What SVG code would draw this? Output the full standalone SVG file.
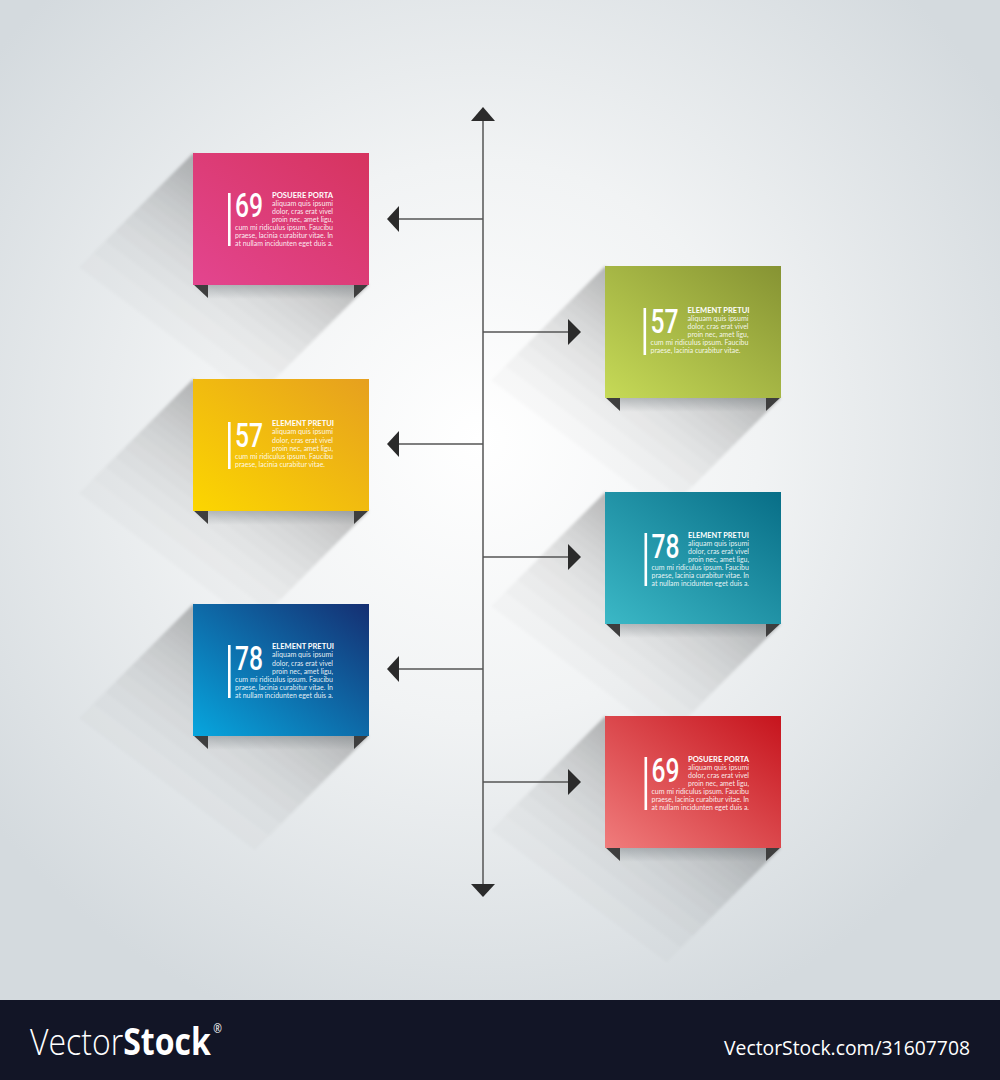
<svg xmlns="http://www.w3.org/2000/svg" xmlns:xlink="http://www.w3.org/1999/xlink" width="1000" height="1080" viewBox="0 0 1000 1080">
<defs>
<style>
.num{font-family:Roboto,"Liberation Sans",sans-serif;font-weight:500;font-size:34px;fill:#fff}
.ttl{font-family:Lato,"Open Sans","Liberation Sans",sans-serif;font-weight:700;font-size:7.6px;fill:#fff}
.txt{font-family:Lato,"Open Sans","Liberation Sans",sans-serif;font-size:6.8px;fill:#fff;fill-opacity:0.9}
.bar{fill:#fff}
.tab{fill:#3e3e3e}
.line{stroke:#555;stroke-width:1.5;fill:none}
.head{fill:#2b2b2b}
.wm{font-family:"Open Sans","Liberation Sans",sans-serif;fill:#fff}
</style>
<radialGradient id="bg" cx="0.48" cy="0.44" r="0.62">
<stop offset="0" stop-color="#ffffff"/>
<stop offset="0.45" stop-color="#f1f3f4"/>
<stop offset="1" stop-color="#d4dade"/>
</radialGradient>
<linearGradient id="gPink" x1="0" y1="1" x2="1" y2="0"><stop offset="0" stop-color="#e3458f"/><stop offset="1" stop-color="#d6345f"/></linearGradient>
<linearGradient id="gYellow" x1="0" y1="1" x2="1" y2="0"><stop offset="0" stop-color="#fcd600"/><stop offset="1" stop-color="#e6a01f"/></linearGradient>
<linearGradient id="gBlue" x1="0" y1="1" x2="1" y2="0"><stop offset="0" stop-color="#07a6de"/><stop offset="1" stop-color="#152f72"/></linearGradient>
<linearGradient id="gGreen" x1="0" y1="1" x2="1" y2="0"><stop offset="0" stop-color="#c6da57"/><stop offset="1" stop-color="#869333"/></linearGradient>
<linearGradient id="gTeal" x1="0" y1="1" x2="1" y2="0"><stop offset="0" stop-color="#3bb8c6"/><stop offset="1" stop-color="#086e87"/></linearGradient>
<linearGradient id="gRed" x1="0" y1="1" x2="1" y2="0"><stop offset="0" stop-color="#f07c7c"/><stop offset="1" stop-color="#c6141d"/></linearGradient>
<linearGradient id="under" x1="0" y1="0" x2="0" y2="1"><stop offset="0" stop-color="#6f777c" stop-opacity="0.4"/><stop offset="1" stop-color="#6f777c" stop-opacity="0"/></linearGradient>
<filter id="soft" x="-30%" y="-30%" width="160%" height="160%"><feGaussianBlur stdDeviation="1.6"/></filter>
<g id="shadow" fill="#1f2a31" fill-opacity="0.02" filter="url(#soft)">
<polygon points="0,0 -4,4 172,136 176,132"/>
<polygon points="0,0 -8,8 168,140 176,132"/>
<polygon points="0,0 -12,12 164,144 176,132"/>
<polygon points="0,0 -16,16 160,148 176,132"/>
<polygon points="0,0 -20,20 156,152 176,132"/>
<polygon points="0,0 -25,25 151,157 176,132"/>
<polygon points="0,0 -30,30 146,162 176,132"/>
<polygon points="0,0 -35,35 141,167 176,132"/>
<polygon points="0,0 -41,41 135,173 176,132"/>
<polygon points="0,0 -47,47 129,179 176,132"/>
<polygon points="0,0 -54,54 122,186 176,132"/>
<polygon points="0,0 -61,61 115,193 176,132"/>
<polygon points="0,0 -69,69 107,201 176,132"/>
<polygon points="0,0 -78,78 98,210 176,132"/>
<polygon points="0,0 -88,88 88,220 176,132"/>
<polygon points="0,0 -100,100 76,232 176,132"/>
<polygon points="0,0 -114,114 62,246 176,132"/>
</g>
</defs>

<rect x="0" y="0" width="1000" height="1000" fill="url(#bg)"/>

<g id="node-pink" transform="translate(193,153)">
<use href="#shadow"/>
<rect x="15" y="132" width="146" height="14" fill="url(#under)"/>
<polygon class="tab" points="0,131 15,131 15,145"/>
<polygon class="tab" points="161,131 176,131 161,145"/>
<rect width="176" height="132" fill="url(#gPink)"/>
<rect class="bar" x="35" y="40" width="2.6" height="53"/>
<text class="num" x="42" y="64" textLength="28" lengthAdjust="spacingAndGlyphs">69</text>
<text class="ttl" x="79" y="44.5" textLength="61" lengthAdjust="spacingAndGlyphs">POSUERE PORTA</text>
<text class="txt" x="79" y="52.6" textLength="61" lengthAdjust="spacingAndGlyphs">aliquam quis ipsumi</text>
<text class="txt" x="79" y="60.7" textLength="61" lengthAdjust="spacingAndGlyphs">dolor, cras erat vivel</text>
<text class="txt" x="79" y="68.8" textLength="61" lengthAdjust="spacingAndGlyphs">proin nec, amet ligu,</text>
<text class="txt" x="42" y="76.9" textLength="98" lengthAdjust="spacingAndGlyphs">cum mi ridiculus ipsum. Faucibu</text>
<text class="txt" x="42" y="85" textLength="98" lengthAdjust="spacingAndGlyphs">praese, lacinia curabitur vitae. In</text>
<text class="txt" x="42" y="93.1" textLength="98" lengthAdjust="spacingAndGlyphs">at nullam incidunten eget duis a.</text>
</g>

<g id="node-yellow" transform="translate(193,379)">
<use href="#shadow"/>
<rect x="15" y="132" width="146" height="14" fill="url(#under)"/>
<polygon class="tab" points="0,131 15,131 15,145"/>
<polygon class="tab" points="161,131 176,131 161,145"/>
<rect width="176" height="132" fill="url(#gYellow)"/>
<rect class="bar" x="35" y="43" width="2.6" height="47"/>
<text class="num" x="42" y="67.5" textLength="28" lengthAdjust="spacingAndGlyphs">57</text>
<text class="ttl" x="79" y="47.3" textLength="62" lengthAdjust="spacingAndGlyphs">ELEMENT PRETUI</text>
<text class="txt" x="79" y="55.4" textLength="61" lengthAdjust="spacingAndGlyphs">aliquam quis ipsumi</text>
<text class="txt" x="79" y="63.5" textLength="61" lengthAdjust="spacingAndGlyphs">dolor, cras erat vivel</text>
<text class="txt" x="79" y="71.6" textLength="61" lengthAdjust="spacingAndGlyphs">proin nec, amet ligu,</text>
<text class="txt" x="42" y="79.7" textLength="98" lengthAdjust="spacingAndGlyphs">cum mi ridiculus ipsum. Faucibu</text>
<text class="txt" x="42" y="87.8" textLength="90" lengthAdjust="spacingAndGlyphs">praese, lacinia curabitur vitae.</text>
</g>

<g id="node-blue" transform="translate(193,604)">
<use href="#shadow"/>
<rect x="15" y="132" width="146" height="14" fill="url(#under)"/>
<polygon class="tab" points="0,131 15,131 15,145"/>
<polygon class="tab" points="161,131 176,131 161,145"/>
<rect width="176" height="132" fill="url(#gBlue)"/>
<rect class="bar" x="35" y="41" width="2.6" height="53"/>
<text class="num" x="42" y="66" textLength="28" lengthAdjust="spacingAndGlyphs">78</text>
<text class="ttl" x="79" y="45.3" textLength="62" lengthAdjust="spacingAndGlyphs">ELEMENT PRETUI</text>
<text class="txt" x="79" y="53.4" textLength="61" lengthAdjust="spacingAndGlyphs">aliquam quis ipsumi</text>
<text class="txt" x="79" y="61.5" textLength="61" lengthAdjust="spacingAndGlyphs">dolor, cras erat vivel</text>
<text class="txt" x="79" y="69.6" textLength="61" lengthAdjust="spacingAndGlyphs">proin nec, amet ligu,</text>
<text class="txt" x="42" y="77.7" textLength="98" lengthAdjust="spacingAndGlyphs">cum mi ridiculus ipsum. Faucibu</text>
<text class="txt" x="42" y="85.8" textLength="98" lengthAdjust="spacingAndGlyphs">praese, lacinia curabitur vitae. In</text>
<text class="txt" x="42" y="93.9" textLength="98" lengthAdjust="spacingAndGlyphs">at nullam incidunten eget duis a.</text>
</g>

<g id="node-green" transform="translate(605,266)">
<use href="#shadow"/>
<rect x="15" y="132" width="146" height="14" fill="url(#under)"/>
<polygon class="tab" points="0,131 15,131 15,145"/>
<polygon class="tab" points="161,131 176,131 161,145"/>
<rect width="176" height="132" fill="url(#gGreen)"/>
<rect class="bar" x="38.5" y="42" width="2.6" height="47"/>
<text class="num" x="45.5" y="66.5" textLength="28" lengthAdjust="spacingAndGlyphs">57</text>
<text class="ttl" x="82.5" y="46.5" textLength="62" lengthAdjust="spacingAndGlyphs">ELEMENT PRETUI</text>
<text class="txt" x="82.5" y="54.6" textLength="61" lengthAdjust="spacingAndGlyphs">aliquam quis ipsumi</text>
<text class="txt" x="82.5" y="62.7" textLength="61" lengthAdjust="spacingAndGlyphs">dolor, cras erat vivel</text>
<text class="txt" x="82.5" y="70.8" textLength="61" lengthAdjust="spacingAndGlyphs">proin nec, amet ligu,</text>
<text class="txt" x="45.5" y="78.9" textLength="98" lengthAdjust="spacingAndGlyphs">cum mi ridiculus ipsum. Faucibu</text>
<text class="txt" x="45.5" y="87" textLength="90" lengthAdjust="spacingAndGlyphs">praese, lacinia curabitur vitae.</text>
</g>

<g id="node-teal" transform="translate(605,492)">
<use href="#shadow"/>
<rect x="15" y="132" width="146" height="14" fill="url(#under)"/>
<polygon class="tab" points="0,131 15,131 15,145"/>
<polygon class="tab" points="161,131 176,131 161,145"/>
<rect width="176" height="132" fill="url(#gTeal)"/>
<rect class="bar" x="39.5" y="41" width="2.6" height="53"/>
<text class="num" x="46.5" y="65.5" textLength="28" lengthAdjust="spacingAndGlyphs">78</text>
<text class="ttl" x="83" y="45.5" textLength="61" lengthAdjust="spacingAndGlyphs">ELEMENT PRETUI</text>
<text class="txt" x="83" y="53.6" textLength="61" lengthAdjust="spacingAndGlyphs">aliquam quis ipsumi</text>
<text class="txt" x="83" y="61.7" textLength="61" lengthAdjust="spacingAndGlyphs">dolor, cras erat vivel</text>
<text class="txt" x="83" y="69.8" textLength="61" lengthAdjust="spacingAndGlyphs">proin nec, amet ligu,</text>
<text class="txt" x="46.5" y="77.9" textLength="97.5" lengthAdjust="spacingAndGlyphs">cum mi ridiculus ipsum. Faucibu</text>
<text class="txt" x="46.5" y="86" textLength="97.5" lengthAdjust="spacingAndGlyphs">praese, lacinia curabitur vitae. In</text>
<text class="txt" x="46.5" y="94.1" textLength="97.5" lengthAdjust="spacingAndGlyphs">at nullam incidunten eget duis a.</text>
</g>

<g id="node-red" transform="translate(605,716)">
<use href="#shadow"/>
<rect x="15" y="132" width="146" height="14" fill="url(#under)"/>
<polygon class="tab" points="0,131 15,131 15,145"/>
<polygon class="tab" points="161,131 176,131 161,145"/>
<rect width="176" height="132" fill="url(#gRed)"/>
<rect class="bar" x="39.5" y="41" width="2.6" height="53"/>
<text class="num" x="46.5" y="65.5" textLength="28" lengthAdjust="spacingAndGlyphs">69</text>
<text class="ttl" x="83" y="45.5" textLength="61" lengthAdjust="spacingAndGlyphs">POSUERE PORTA</text>
<text class="txt" x="83" y="53.6" textLength="61" lengthAdjust="spacingAndGlyphs">aliquam quis ipsumi</text>
<text class="txt" x="83" y="61.7" textLength="61" lengthAdjust="spacingAndGlyphs">dolor, cras erat vivel</text>
<text class="txt" x="83" y="69.8" textLength="61" lengthAdjust="spacingAndGlyphs">proin nec, amet ligu,</text>
<text class="txt" x="46.5" y="77.9" textLength="97.5" lengthAdjust="spacingAndGlyphs">cum mi ridiculus ipsum. Faucibu</text>
<text class="txt" x="46.5" y="86" textLength="97.5" lengthAdjust="spacingAndGlyphs">praese, lacinia curabitur vitae. In</text>
<text class="txt" x="46.5" y="94.1" textLength="97.5" lengthAdjust="spacingAndGlyphs">at nullam incidunten eget duis a.</text>
</g>

<g id="connectors">
<line class="line" x1="483" y1="119" x2="483" y2="885"/>
<polygon class="head" points="483,107 471,121 495,121"/>
<polygon class="head" points="483,897 471,884 495,884"/>
<line class="line" x1="483" y1="219" x2="398" y2="219"/>
<polygon class="head" points="387,219 399,206 399,232"/>
<line class="line" x1="483" y1="444" x2="398" y2="444"/>
<polygon class="head" points="387,444 399,431 399,457"/>
<line class="line" x1="483" y1="669" x2="398" y2="669"/>
<polygon class="head" points="387,669 399,656 399,682"/>
<line class="line" x1="483" y1="332" x2="569" y2="332"/>
<polygon class="head" points="581,332 568,319 568,345"/>
<line class="line" x1="483" y1="557" x2="569" y2="557"/>
<polygon class="head" points="581,557 568,544 568,570"/>
<line class="line" x1="483" y1="782" x2="569" y2="782"/>
<polygon class="head" points="581,782 568,769 568,795"/>
</g>

<g id="watermark">
<rect x="0" y="1000" width="1000" height="80" fill="#121526"/>
<text class="wm" x="30" y="1055" font-size="37" textLength="192" lengthAdjust="spacingAndGlyphs"><tspan font-weight="300">Vector</tspan><tspan font-weight="700">Stock</tspan><tspan font-size="12" dx="3" dy="-22">®</tspan></text>
<text class="wm" x="724" y="1055" font-size="20" textLength="246" lengthAdjust="spacingAndGlyphs">VectorStock.com/31607708</text>
</g>
</svg>
